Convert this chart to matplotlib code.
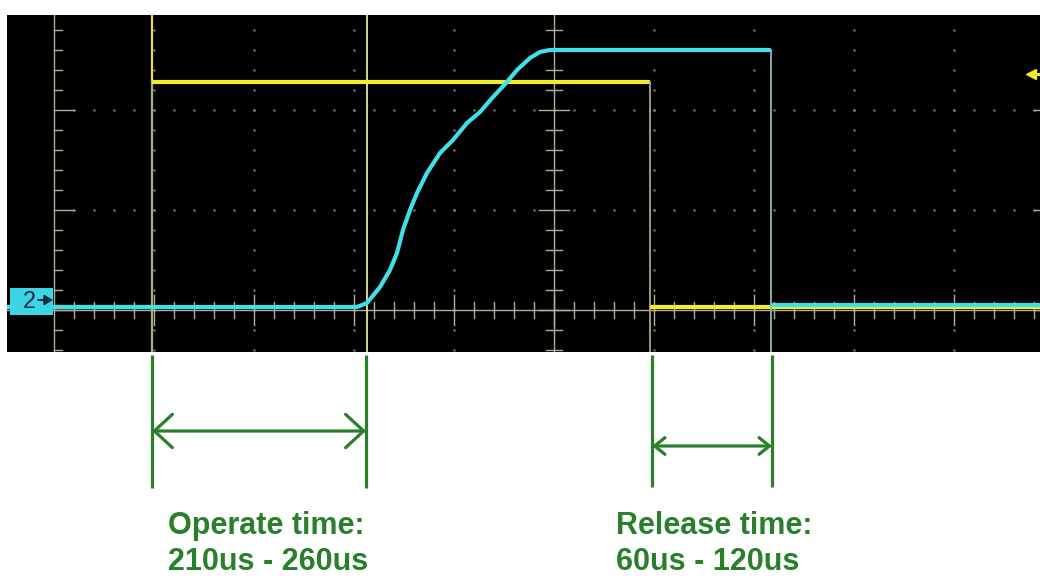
import numpy as np
import matplotlib
matplotlib.use("Agg")
import matplotlib.pyplot as plt
from matplotlib.patches import Rectangle

# ---------------- data (time in microseconds, amplitude in divisions) ----------------
ch1_time_us = [-547, -402, -402, 96, 96, 486]
ch1_level_div = [0.03, 0.03, 2.28, 2.28, 0.03, 0.03]

ch2_time_us = [-547, -197, -187, -174, -164, -157, -151, -144, -137, -127, -114,
               -101, -87, -74, -61, -47, -37, -24, -14, -4, 217, 217, 486]
ch2_level_div = [0.03, 0.03, 0.07, 0.23, 0.40, 0.57, 0.80, 1.00, 1.17, 1.37, 1.57,
                 1.70, 1.87, 1.98, 2.13, 2.28, 2.40, 2.52, 2.58, 2.60, 2.60, 0.05, 0.05]

cursor_time_us = [-402, -187]
operate_span_us = [-402, -188]
release_span_us = [98, 218]
operate_labels = ["Operate time:", "210us - 260us"]
release_labels = ["Release time:", "60us - 120us"]
trigger_level_div = 2.36
ch2_marker_label = "2"

# ---------------- styles ----------------
GREEN = "#2a7f2a"
YELLOW = "#eeee2a"
CYAN = "#3fe0ea"
GRAT = "#b4ae98"
DOT = "#8c8c8c"
US_PER_DIV = 100

fig = plt.figure(figsize=(10.4, 5.76), dpi=100)
fig.patch.set_facecolor("white")

# full-figure axes (1 us = 1 px, 1 div = 100 px)
base = fig.add_axes([0, 0, 1, 1])
base.set_xlim(-554, 486)
base.set_ylim(-2.66, 3.10)
base.axis("off")

# oscilloscope screen
scope = fig.add_axes([7 / 1040, 224 / 576, 1033 / 1040, 337 / 576])
scope.set_facecolor("black")
scope.set_xlim(-547, 486)
scope.set_ylim(-0.42, 2.95)
scope.set_xticks([])
scope.set_yticks([])
for s in scope.spines.values():
    s.set_visible(False)

# graticule dots
v_dots = np.arange(-0.4, 3.0, 0.2)
t_dots = np.arange(-480, 500, 20)
for k in range(-4, 5):
    if k == 0:
        continue
    scope.plot(np.full_like(v_dots, k * US_PER_DIV), v_dots, ls="none", marker="s",
               ms=1.5, mec="none", mfc=DOT)
for lv in (1, 2):
    scope.plot(t_dots, np.full_like(t_dots, lv, dtype=float), ls="none", marker="s",
               ms=1.5, mec="none", mfc=DOT)

# solid graticule lines
scope.axvline(-500, color=GRAT, lw=1.0)
scope.axvline(0, color=GRAT, lw=1.0)
scope.axhline(0, color=GRAT, lw=1.0)
v_ticks = np.round(np.arange(-0.4, 3.0, 0.2), 2)
for v in v_ticks:
    major = abs(v - round(v)) < 1e-6
    scope.plot([-500, -500 + (20 if major else 8)], [v, v], color=GRAT, lw=1.0)
    scope.plot([500 - (20 if major else 8), 500], [v, v], color=GRAT, lw=1.0)
    L = 15 if major else 8
    scope.plot([-L, L], [v, v], color=GRAT, lw=1.0)
for t in np.arange(-480, 500, 20):
    major = t % 100 == 0
    L = 0.15 if major else 0.08
    scope.plot([t, t], [-L, L], color=GRAT, lw=1.0)

# cursors
scope.axvline(cursor_time_us[0], color="#e8de52", lw=1.6)
scope.axvline(cursor_time_us[1], color="#e6e4a6", lw=1.3)


def draw_trace(ax, t, v, color, step_color, lw):
    t = np.asarray(t, float)
    v = np.asarray(v, float)
    start = 0
    for i in range(len(t) - 1):
        if t[i] == t[i + 1]:
            ax.plot(t[start:i + 1], v[start:i + 1], color=color, lw=lw,
                    solid_capstyle="butt", solid_joinstyle="round")
            hi = max(v[i], v[i + 1])
            ax.plot([t[i], t[i]], [-0.42, hi], color=step_color, lw=1.3)
            start = i + 1
    ax.plot(t[start:], v[start:], color=color, lw=lw, solid_capstyle="butt",
            solid_joinstyle="round")


draw_trace(scope, ch1_time_us, ch1_level_div, YELLOW, "#a8a688", 3.0)
draw_trace(scope, ch2_time_us, ch2_level_div, CYAN, "#8cb8b8", 3.0)

# channel 2 ground marker
scope.add_patch(Rectangle((-544, -0.05), 43, 0.27, facecolor="#3ad6e6",
                          edgecolor="none", zorder=5))
scope.text(-525, 0.08, ch2_marker_label, ha="center", va="center", fontsize=17,
           color="#1c2a4a", family=["Liberation Sans", "DejaVu Sans"], zorder=6)
scope.annotate("", xy=(-501, 0.10), xytext=(-516, 0.10),
               arrowprops=dict(arrowstyle="-|>,head_length=0.5,head_width=0.3",
                               color="#1c2a4a", lw=1.4, shrinkA=0, shrinkB=0),
               zorder=6)

# trigger level marker
scope.plot([477, 486], [trigger_level_div, trigger_level_div], color=YELLOW, lw=2.2)
scope.plot([477], [trigger_level_div], ls="none", marker="<", ms=7, mfc=YELLOW,
           mec=YELLOW)

# ---------------- annotations below the screen ----------------
top_v = -0.45


def span(ax, tt, bottom, arrow_v, hl, hw):
    for t in tt:
        ax.plot([t, t], [top_v, bottom], color=GREEN, lw=2.3, solid_capstyle="butt")
    ax.annotate("", xy=(tt[1], arrow_v), xytext=(tt[0], arrow_v),
                arrowprops=dict(arrowstyle=f"<->,head_length={hl},head_width={hw}",
                                color=GREEN, lw=2.3, shrinkA=0, shrinkB=0))


span(base, operate_span_us, -1.78, -1.21, 1.3, 1.2)
span(base, release_span_us, -1.77, -1.36, 0.75, 0.6)

font = dict(fontsize=22, fontweight="bold", color=GREEN, va="baseline", ha="left",
            family=["Liberation Sans", "DejaVu Sans"])
for i, s in enumerate(operate_labels):
    base.text(-386, -2.24 - 0.36 * i, s, **font)
for i, s in enumerate(release_labels):
    base.text(62, -2.24 - 0.36 * i, s, **font)

fig.savefig("out.png", dpi=100, facecolor="white")
